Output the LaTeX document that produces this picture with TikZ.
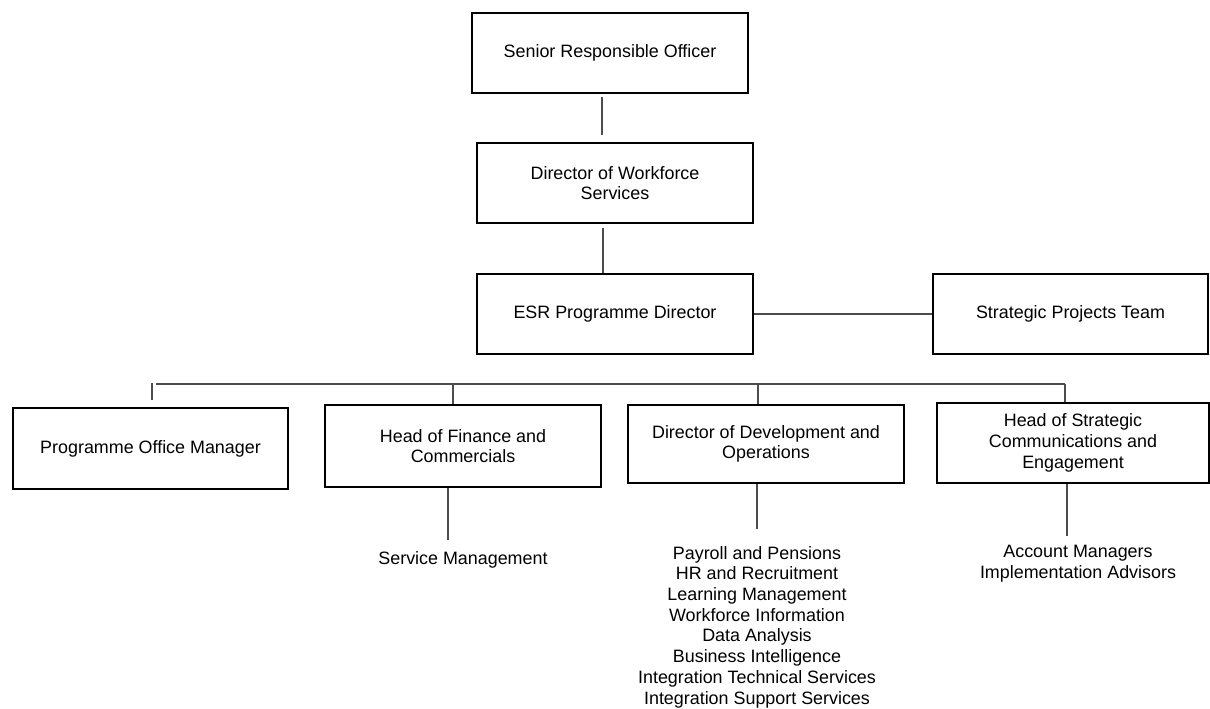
\documentclass[tikz,border=0pt]{standalone}
\usepackage{fontspec}
\setmainfont{Liberation Sans}
\begin{document}
\begin{tikzpicture}[x=1pt,y=-1pt,
  box/.style={draw=black,line width=2.8pt,rectangle,inner sep=0pt,
    minimum width=#1,minimum height=80pt,align=center,
    font=\fontsize{17.9}{20.7}\selectfont},
  box/.default=276pt,
  lbl/.style={inner sep=0pt,align=center,font=\fontsize{17.9}{20.7}\selectfont},
  conn/.style={draw=black!70,line width=1.2pt}]
\useasboundingbox (0,0) rectangle (1210,709);
% boxes
\node[box] (sro) at (610,53) {Senior Responsible Officer};
\node[box] (dws) at (615,183) {Director of Workforce\\Services};
\node[box] (esr) at (615,314) {ESR Programme Director};
\node[box=275pt] (spt) at (1070.5,314) {Strategic Projects Team};
\node[box=275pt,minimum height=81pt] (pom) at (150.5,448.5) {Programme Office Manager};
\node[box,minimum height=82pt] (hfc) at (463,446) {Head of Finance and\\Commercials};
\node[box,minimum height=78pt] (ddo) at (766,444) {Director of Development and\\Operations};
\node[box=272pt,minimum height=80pt] (hsce) at (1073,443) {Head of Strategic\\Communications and\\Engagement};
% leaf texts
\node[lbl] (sm) at (463,560) {Service Management};
\node[lbl] (ops) at (757,627) {Payroll and Pensions\\HR and Recruitment\\Learning Management\\Workforce Information\\Data Analysis\\Business Intelligence\\Integration Technical Services\\Integration Support Services};
\node[lbl] (acc) at (1078,563.5) {Account Managers\\Implementation Advisors};
% bus coordinates
\coordinate (busL) at (156,384);
\coordinate (busR) at (1065,384);
% connectors
\draw[conn,shorten <=3pt,shorten >=7pt] (sro.south -| 602,0) -- (dws.north -| 602,0);
\draw[conn,shorten <=4pt] (dws.south -| 603,0) -- (esr.north -| 603,0);
\draw[conn] (esr.east) -- (spt.west);
\draw[conn] (busL) -- (busR);
\draw[conn,shorten <=-1pt,shorten >=7pt] (busL -| 152,0) -- (pom.north -| 152,0);
\draw[conn] (busL -| 453,0) -- (hfc.north -| 453,0);
\draw[conn] (busL -| 758,0) -- (ddo.north -| 758,0);
\draw[conn] (busR) -- (hsce.north -| busR);
\draw[conn,shorten >=11pt] (hfc.south -| 448,0) -- (sm.north -| 448,0);
\draw[conn,shorten >=17pt] (ddo.south -| 757,0) -- (ops.north -| 757,0);
\draw[conn,shorten >=9pt] (hsce.south -| 1067,0) -- (acc.north -| 1067,0);
\end{tikzpicture}
\end{document}
